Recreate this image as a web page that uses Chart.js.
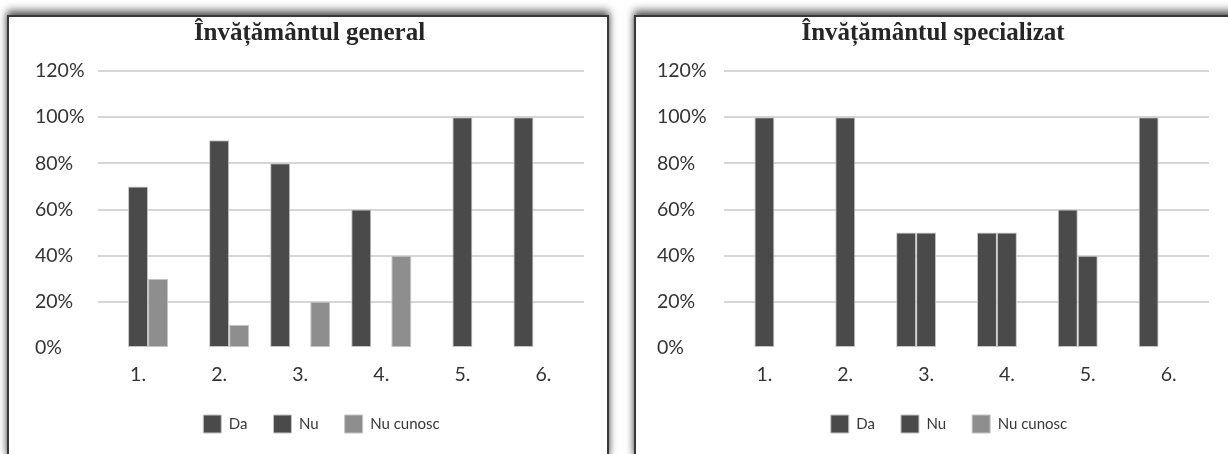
<!DOCTYPE html>
<html>
<head>
<meta charset="utf-8">
<script src="https://cdn.jsdelivr.net/npm/chart.js@4.4.0/dist/chart.umd.min.js"></script>
<style>
  html, body { margin: 0; padding: 0; background: #ffffff; width: 1228px; height: 454px; overflow: hidden; }
  .box {
    position: absolute; top: 15px; width: 598px; height: 440px;
    border: 2px solid #383838; background: #fff;
    box-shadow: 0 -5px 8px rgba(0,0,0,0.55), 0 0 6px rgba(0,0,0,0.35);
  }
  #boxL { left: 7px; }
  #boxR { left: 634px; }
  canvas { display: block; }
</style>
</head>
<body>
<div class="box" id="boxL"><canvas id="cL" width="598" height="440"></canvas></div>
<div class="box" id="boxR"><canvas id="cR" width="598" height="440"></canvas></div>
<script>
// ---- data ----
const categories = ["1.", "2.", "3.", "4.", "5.", "6."];
const seriesNames = ["Da", "Nu", "Nu cunosc"];
const yTicks = [0, 20, 40, 60, 80, 100, 120];

const generalTitle = "Învățământul general";
const generalDa = [0, 0, 80, 60, 0, 100];
const generalNu = [70, 90, 0, 0, 100, 0];
const generalNuCunosc = [30, 10, 20, 40, 0, 0];

const specialTitle = "Învățământul specializat";
const specialDa = [0, 0, 50, 50, 60, 100];
const specialNu = [100, 100, 50, 50, 40, 0];
const specialNuCunosc = [0, 0, 0, 0, 0, 0];

const colors = ["#4a4a4a", "#4a4a4a", "#8e8e8e"];

function makeChart(id, title, series, padLeft, axisWidth, padRight, legendShift) {
  const ctx = document.getElementById(id);
  new Chart(ctx, {
    type: 'bar',
    data: {
      labels: categories,
      datasets: series.map((d, i) => ({
        label: seriesNames[i],
        data: d,
        backgroundColor: colors[i],
        borderColor: '#c4c4c4',
        borderWidth: 1,
        borderSkipped: false,
        barPercentage: 1.0,
        categoryPercentage: 60 / 81
      }))
    },
    options: {
      responsive: false,
      animation: false,
      devicePixelRatio: 1,
      layout: { padding: { left: padLeft, right: padRight, top: 0, bottom: 14 } },
      plugins: {
        title: {
          display: true,
          text: title,
          color: '#262626',
          font: { family: '"Liberation Serif", "Times New Roman", serif', size: 25, weight: 'bold' },
          padding: { top: 2, bottom: 22 }
        },
        legend: {
          position: 'bottom',
          labels: {
            boxWidth: 18, boxHeight: 18, padding: 26,
            color: '#383838',
            font: { family: 'Lato, "Open Sans", sans-serif', size: 15 }
          }
        },
        tooltip: { enabled: false }
      },
      scales: {
        x: {
          afterFit: s => { s.height = 41; },
          grid: { display: false, drawTicks: false },
          border: { display: false },
          ticks: {
            padding: 15, color: '#333333',
            font: { family: 'Lato, "Open Sans", sans-serif', size: 19.5 }
          }
        },
        y: {
          min: 0, max: 120,
          afterBuildTicks: s => { s.ticks = yTicks.map(v => ({ value: v })); },
          afterFit: s => { s.width = axisWidth; },
          grid: {
            drawTicks: false,
            color: c => (c.tick && c.tick.value === 0) ? 'rgba(0,0,0,0)' : '#d6d6d6',
            lineWidth: 2
          },
          border: { display: false },
          ticks: {
            crossAlign: 'far', padding: 8, color: '#333333',
            font: { family: 'Lato, "Open Sans", sans-serif', size: 19.5 },
            callback: v => v + '%'
          }
        }
      }
    },
    plugins: [{
      id: 'legendShift',
      afterLayout(chart) {
        if (chart.legend) { chart.legend.left += legendShift; chart.legend.right += legendShift; }
      }
    }]
  });
}

makeChart('cL', generalTitle, [generalDa, generalNu, generalNuCunosc], 26, 62.5, 23, 12);
makeChart('cR', specialTitle, [specialDa, specialNu, specialNuCunosc], 21, 67, 25, 16);
</script>
</body>
</html>
